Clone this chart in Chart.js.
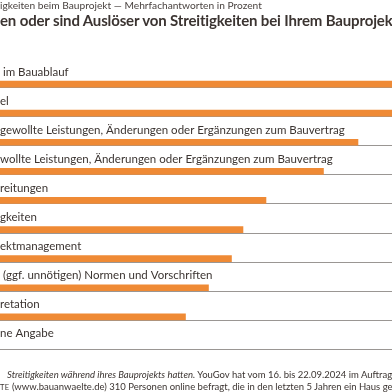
<!DOCTYPE html>
<html>
<head>
<meta charset="utf-8">
<script src="https://cdn.jsdelivr.net/npm/chart.js@4.4.1/dist/chart.umd.min.js"></script>
<style>
  html, body { margin: 0; padding: 0; background: #fff; overflow: hidden; }
  #wrap { position: relative; width: 392px; height: 392px; overflow: hidden; }
  #wrap canvas { position: absolute; left: 0; top: 0; }
  .txt { position: absolute; left: 0; white-space: nowrap; font-family: Lato, sans-serif; color: #3b3431; }
  #sub { top: -1px; font-size: 10.2px; color: #4a4340; }
  #title { top: 10.5px; font-size: 15px; font-weight: bold; letter-spacing: -0.15px; }
  #foot1 { top: 369px; left: 7px; font-size: 9.5px; }
  #foot2 { top: 381px; font-size: 9.5px; }
  .sc { font-size: 7.5px; letter-spacing: 0.4px; }
</style>
</head>
<body>
<div id="wrap">
  <canvas id="chart" width="392" height="392"></canvas>
  <div class="txt" id="sub">igkeiten beim Bauprojekt — Mehrfachantworten in Prozent</div>
  <div class="txt" id="title">en oder sind Auslöser von Streitigkeiten bei Ihrem Bauprojekt?</div>
  <div class="txt" id="foot1"><i>Streitigkeiten während ihres Bauprojekts hatten.</i> YouGov hat vom 16. bis 22.09.2024 im Auftrag</div>
  <div class="txt" id="foot2"><span class="sc">TE</span> (www.bauanwaelte.de) 310 Personen online befragt, die in den letzten 5 Jahren ein Haus gebaut</div>
</div>
<script>
// sichtbare Teile der Antwortkategorien
const kategorien = [
  ' im Bauablauf',
  'el',
  'gewollte Leistungen, Änderungen oder Ergänzungen zum Bauvertrag',
  'wollte Leistungen, Änderungen oder Ergänzungen zum Bauvertrag',
  'reitungen',
  'gkeiten',
  'ektmanagement',
  ' (ggf. unnötigen) Normen und Vorschriften',
  'retation',
  'ne Angabe'
];
// Anteile in Prozent (geschätzt)
const anteile = [55, 48, 41, 38, 33, 31, 30, 28, 26, 4];

const orange = '#ef8a35';
const linie = '#9a9693';

// Beschriftung über jedem Balken und graue Grundlinie
const zeilenPlugin = {
  id: 'zeilen',
  beforeDatasetsDraw(chart) {
    const ctx = chart.ctx;
    const y = chart.scales.y;
    const area = chart.chartArea;
    ctx.save();
    ctx.strokeStyle = linie;
    ctx.lineWidth = 1;
    kategorien.forEach((k, i) => {
      const py = Math.round(y.getPixelForValue(i) + 3) + 0.5;
      ctx.beginPath();
      ctx.moveTo(area.left, py);
      ctx.lineTo(area.right, py);
      ctx.stroke();
    });
    ctx.restore();
  },
  afterDatasetsDraw(chart) {
    const ctx = chart.ctx;
    const y = chart.scales.y;
    ctx.save();
    ctx.fillStyle = '#3b3431';
    ctx.font = '11.5px Lato, sans-serif';
    ctx.textBaseline = 'alphabetic';
    ctx.textAlign = 'left';
    kategorien.forEach((k, i) => {
      ctx.fillText(k, chart.chartArea.left, y.getPixelForValue(i) - 8.5);
    });
    ctx.restore();
  }
};

const ctx = document.getElementById('chart').getContext('2d');
new Chart(ctx, {
  type: 'bar',
  data: {
    labels: kategorien,
    datasets: [{
      label: 'Anteil',
      data: anteile,
      backgroundColor: orange,
      borderWidth: 0,
      barThickness: 6
    }]
  },
  options: {
    indexAxis: 'y',
    responsive: false,
    animation: false,
    layout: { padding: { top: 69.5, bottom: 31.5, left: 0, right: 0 } },
    scales: {
      x: { display: false, min: 9.87, max: 43.96 },
      y: { display: false }
    },
    plugins: {
      legend: { display: false },
      tooltip: { enabled: false }
    }
  },
  plugins: [zeilenPlugin]
});
</script>
</body>
</html>
